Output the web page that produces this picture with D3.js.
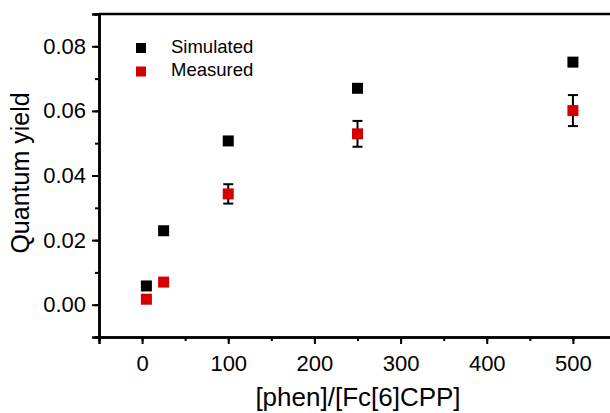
<!DOCTYPE html>
<html>
<head>
<meta charset="utf-8">
<script src="https://cdn.jsdelivr.net/npm/d3@7"></script>
<style>
  body { margin: 0; background: #fff; }
  text { font-family: "Liberation Sans", Arial, sans-serif; }
</style>
</head>
<body>
<div id="chart"></div>
<script>
(function () {

  // data
  const ratios = [5, 25, 100, 250, 500]
  const simulated = [0.0058, 0.0229, 0.0507, 0.067, 0.0751]
  const measured = [0.0017, 0.007, 0.0343, 0.0529, 0.0601]
  const measuredErr = [0.0006, 0.0006, 0.003, 0.004, 0.0048]
  const xTicks = [0, 100, 200, 300, 400, 500]
  const yTicks = [0, 0.02, 0.04, 0.06, 0.08]
  const seriesNames = ["Simulated", "Measured"]
  const seriesColors = ["#000", "#d40000"]

  const margin = { top: 14, right: -6, bottom: 76, left: 99 }
  const width = 610 - margin.left - margin.right
  const height = 413 - margin.top - margin.bottom

  const svg = d3.select("#chart").append("svg")
      .attr("width", 610)
      .attr("height", 413)
      .append("g")
      .attr("transform", "translate(" + margin.left + "," + margin.top + ")")

  const xPositionScale = d3.scaleLinear()
    .domain([-50, 550])
    .range([0, width])

  const yPositionScale = d3.scaleLinear()
    .domain([-0.01, 0.09])
    .range([height, 0])

  // minor ticks first, then the major axes on top
  svg.append("g")
    .attr("class", "axis x-minor")
    .attr("transform", "translate(0," + height + ")")
    .call(d3.axisBottom(xPositionScale).tickValues(d3.range(-50, 551, 50)).tickSize(4).tickFormat(""))

  svg.append("g")
    .attr("class", "axis y-minor")
    .call(d3.axisLeft(yPositionScale).tickValues(d3.range(-0.01, 0.0901, 0.01)).tickSize(4).tickFormat(""))

  const xAxis = d3.axisBottom(xPositionScale)
    .tickValues(xTicks)
    .tickSize(7)
    .tickPadding(11)
    .tickFormat(d3.format("d"))
  svg.append("g")
    .attr("class", "axis x-axis")
    .attr("transform", "translate(0," + height + ")")
    .call(xAxis)

  const yAxis = d3.axisLeft(yPositionScale)
    .tickValues(yTicks)
    .tickSize(7)
    .tickPadding(6)
    .tickFormat(d3.format(".2f"))
  svg.append("g")
    .attr("class", "axis y-axis")
    .call(yAxis)

  svg.selectAll(".axis path, .axis line")
    .attr("stroke", "#000")
    .attr("stroke-width", 2)
  svg.selectAll(".axis path").attr("stroke-width", 2.5)
  svg.selectAll(".axis text")
    .attr("font-size", 22)
    .attr("fill", "#000")

  // top frame line
  svg.append("line")
    .attr("x1", 0)
    .attr("x2", width)
    .attr("y1", 0)
    .attr("y2", 0)
    .attr("stroke", "#000")
    .attr("stroke-width", 2.5)

  // error bars for the measured points
  const errs = svg.append("g").attr("class", "errors")
  ratios.forEach((r, i) => {
    const x = xPositionScale(r)
    const lo = yPositionScale(measured[i] - measuredErr[i])
    const hi = yPositionScale(measured[i] + measuredErr[i])
    errs.append("line")
      .attr("x1", x).attr("x2", x).attr("y1", lo).attr("y2", hi)
      .attr("stroke", "#000").attr("stroke-width", 2)
    errs.selectAll(null)
      .data([lo, hi])
      .join("line")
      .attr("x1", x - 5).attr("x2", x + 5)
      .attr("y1", d => d).attr("y2", d => d)
      .attr("stroke", "#000").attr("stroke-width", 2)
  })

  const size = 11

  svg.append("g")
    .selectAll("rect")
    .data(ratios)
    .join("rect")
    .attr("x", d => xPositionScale(d) - size / 2)
    .attr("y", (d, i) => yPositionScale(simulated[i]) - size / 2)
    .attr("width", size)
    .attr("height", size)
    .attr("fill", seriesColors[0])

  svg.append("g")
    .selectAll("rect")
    .data(ratios)
    .join("rect")
    .attr("x", d => xPositionScale(d) - size / 2)
    .attr("y", (d, i) => yPositionScale(measured[i]) - size / 2)
    .attr("width", size)
    .attr("height", size)
    .attr("fill", seriesColors[1])

  // legend
  const legend = svg.append("g")
    .attr("transform", "translate(37,29)")

  legend.selectAll("rect")
    .data(seriesColors)
    .join("rect")
    .attr("x", 0)
    .attr("y", (d, i) => i * 23.5)
    .attr("width", 10)
    .attr("height", 10)
    .attr("fill", d => d)

  legend.selectAll("text")
    .data(seriesNames)
    .join("text")
    .attr("x", 35)
    .attr("y", (d, i) => i * 23.5)
    .attr("dy", 9.5)
    .attr("font-size", 18.5)
    .text(d => d)

  // axis titles
  svg.append("text")
    .text("[phen]/[Fc[6]CPP]")
    .attr("x", 358 - margin.left)
    .attr("y", 406 - margin.top)
    .attr("text-anchor", "middle")
    .attr("font-size", 26)

  svg.append("text")
    .text("Quantum yield")
    .attr("transform", "translate(" + (29 - margin.left) + "," + (173 - margin.top) + ") rotate(-90)")
    .attr("text-anchor", "middle")
    .attr("font-size", 25)

})();
</script>
</body>
</html>
